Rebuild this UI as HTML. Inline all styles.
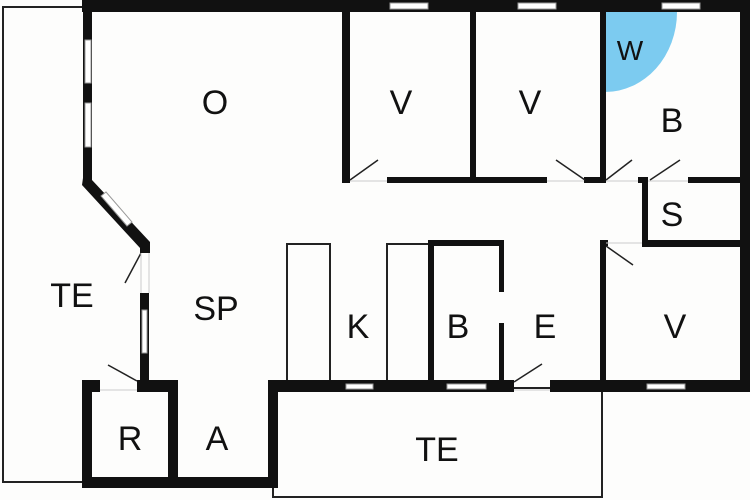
<!DOCTYPE html>
<html><head><style>
body{margin:0;background:#fff;}
svg{display:block;}
text{font-family:"Liberation Sans",sans-serif;font-size:34px;fill:#111;text-anchor:middle;}
</style></head><body>
<svg width="750" height="500" viewBox="0 0 750 500" xmlns="http://www.w3.org/2000/svg">
<rect width="750" height="500" fill="#fdfdfc"/>
<path d="M605 12 L677 12 A72 80 0 0 1 605 92 Z" fill="#7ccbf0"/>
<g fill="none" stroke="#222" stroke-width="2">
<polyline points="83,7 3,7 3,482 83,482"/>
<rect x="273" y="388" width="329" height="109"/>
<polyline points="287,382 287,244 330,244 330,382"/>
<polyline points="387,382 387,244 430,244"/>
</g>
<g fill="#111">
<rect x="82" y="0" width="668" height="12"/>
<rect x="740" y="0" width="10" height="392"/>
<rect x="83" y="0" width="9" height="182"/>
<polygon points="83,178 92,178 92,180 150,242 150,253 140,253 140,248 82,185"/>
<rect x="140" y="293" width="9" height="95"/>
<rect x="82" y="380" width="18" height="12"/>
<rect x="137" y="380" width="41" height="12"/>
<rect x="82" y="380" width="10" height="108"/>
<rect x="168" y="380" width="10" height="108"/>
<rect x="82" y="477" width="196" height="11"/>
<rect x="268" y="380" width="10" height="108"/>
<rect x="268" y="380" width="246" height="12"/>
<rect x="550" y="380" width="200" height="12"/>
<rect x="342" y="12" width="8" height="171"/>
<rect x="470" y="12" width="6" height="171"/>
<rect x="600" y="12" width="6" height="171"/>
<rect x="387" y="177" width="160" height="6"/>
<rect x="584" y="177" width="22" height="6"/>
<rect x="638" y="177" width="10" height="6"/>
<rect x="688" y="177" width="52" height="6"/>
<rect x="642" y="177" width="6" height="70"/>
<rect x="642" y="240" width="98" height="7"/>
<rect x="428" y="240" width="76" height="6"/>
<rect x="428" y="240" width="6" height="145"/>
<rect x="499" y="240" width="5" height="52"/>
<rect x="499" y="323" width="5" height="60"/>
<rect x="600" y="240" width="6" height="145"/>
<rect x="600" y="240" width="8" height="6"/>
</g>
<g fill="#fff" stroke="#999" stroke-width="1">
<rect x="85" y="40" width="6" height="43"/>
<rect x="85" y="103" width="6" height="44"/>
<rect x="142" y="310" width="5" height="43"/>
<rect x="390" y="3" width="38" height="6"/>
<rect x="518" y="3" width="38" height="6"/>
<rect x="662" y="3" width="38" height="6"/>
<rect x="346" y="384" width="27" height="5"/>
<rect x="447" y="384" width="39" height="5"/>
<rect x="647" y="384" width="38" height="5"/>
</g>
<polygon points="101,196 106,192 132,222 127,226" fill="#fff" stroke="#999" stroke-width="1"/>
<g stroke="#222" stroke-width="1.5" fill="none">
<line x1="141" y1="253" x2="125" y2="283"/>
<line x1="137" y1="381" x2="108" y2="365"/>
<line x1="350" y1="180" x2="378" y2="160"/>
<line x1="585" y1="180" x2="556" y2="160"/>
<line x1="606" y1="180" x2="632" y2="160"/>
<line x1="650" y1="180" x2="680" y2="160"/>
<line x1="606" y1="246" x2="633" y2="265"/>
<line x1="514" y1="382" x2="542" y2="364"/>
</g>
<g stroke="#ccc" stroke-width="1">
<line x1="350" y1="181" x2="387" y2="181"/>
<line x1="547" y1="181" x2="584" y2="181"/>
<line x1="606" y1="181" x2="638" y2="181"/>
<line x1="648" y1="181" x2="688" y2="181"/>
<line x1="606" y1="243" x2="642" y2="243"/>
<line x1="100" y1="390" x2="137" y2="390"/>
<line x1="514" y1="390" x2="550" y2="390"/>
<line x1="141" y1="253" x2="141" y2="293"/>
<line x1="149" y1="253" x2="149" y2="293"/>
</g>
<text x="215" y="114">O</text>
<text x="401" y="114">V</text>
<text x="530" y="114">V</text>
<text x="630" y="60" style="font-size:28px">W</text>
<text x="672" y="132">B</text>
<text x="672" y="226">S</text>
<text x="72" y="307">TE</text>
<text x="216" y="320">SP</text>
<text x="358" y="338">K</text>
<text x="458" y="338">B</text>
<text x="545" y="338">E</text>
<text x="675" y="338">V</text>
<text x="130" y="450">R</text>
<text x="217" y="450">A</text>
<text x="437" y="461">TE</text>
</svg>
</body></html>
